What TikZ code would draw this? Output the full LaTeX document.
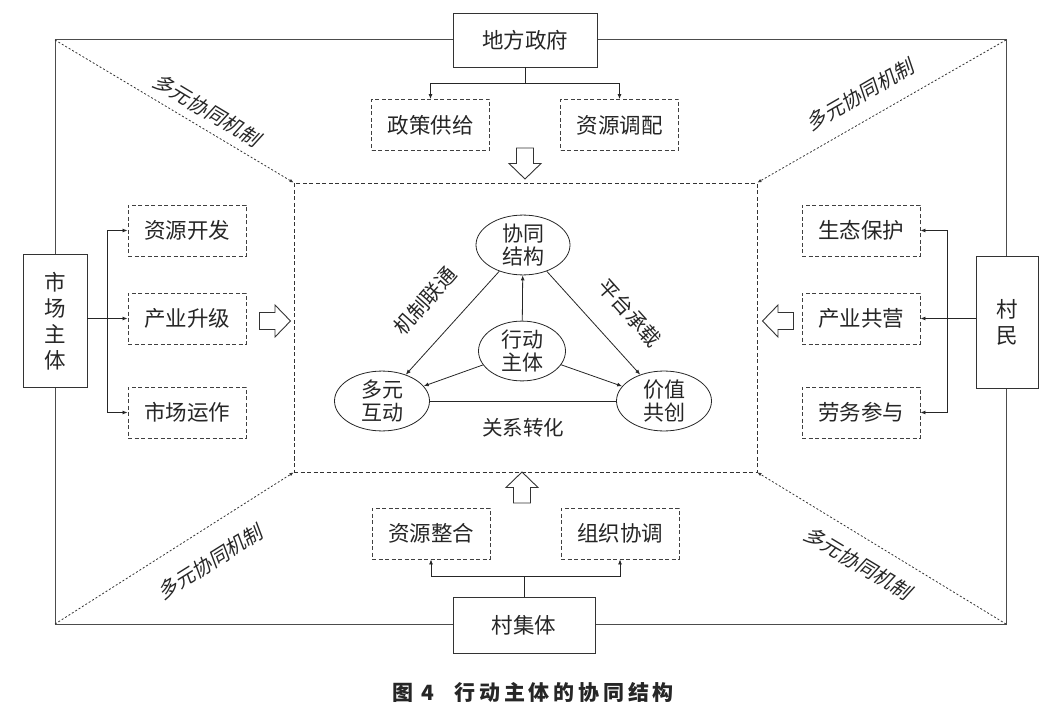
\documentclass[tikz,border=0pt]{standalone}
\usepackage{fontspec}
\setmainfont{Noto Sans CJK SC}
\newfontfamily\slantfont[FakeSlant=0.2]{Noto Sans CJK SC}
\newfontfamily\capfont[LetterSpace=18]{Noto Sans CJK SC}
\usetikzlibrary{arrows.meta,shapes.geometric}

\tikzset{
	mainbox/.style={draw=black!80, line width=0.9pt, fill=white, inner sep=0pt, align=center, font=\fontsize{21.5}{26}\selectfont},
	subbox/.style={draw=black!75, dash pattern=on 4pt off 2.5pt, line width=0.9pt, fill=white, minimum width=118, minimum height=51, inner sep=0pt, font=\fontsize{21.5}{24}\selectfont},
	role/.style={ellipse, draw=black!85, line width=0.8pt, minimum width=94, minimum height=51, inner sep=0pt, align=center, font=\fontsize{21}{23}\selectfont},
	tip/.style={-{Latex[length=5pt,width=4pt]}, line width=0.8pt, draw=black!85},
	mech/.style={-{Latex[length=4pt,width=3.5pt]}, dash pattern=on 2pt off 2pt, line width=0.8pt, draw=black!80},
	hollow/.pic={
		\draw[line width=0.9pt, draw=black!80, fill=white] (-8.5, -15.5) -- (8.5, -15.5) -- (8.5, 0) -- (16, 0) -- (0, 15.5) -- (-16, 0) -- (-8.5, 0) -- cycle;
	},
	tag/.style={font=\slantfont\fontsize{20}{22}\selectfont},
	edgetag/.style={font=\fontsize{20.5}{22}\selectfont},
}

\begin{document}
\begin{tikzpicture}[x=1pt, y=-1pt, every node/.append style={text=black!85}]
	%%%%% START %%%%%
	\useasboundingbox (0, 0) rectangle (1047, 714);
	
	% outer frame and its corners
	\coordinate (tl) at (55, 40);
	\coordinate (tr) at (1006, 40);
	\coordinate (bl) at (55, 624);
	\coordinate (br) at (1006, 624);
	\draw[line width=1pt, draw=black!70] (tl) rectangle (br);
	
	% centre frame
	\node[draw=black!80, dash pattern=on 4pt off 2.5pt, line width=0.9pt, minimum width=463, minimum height=289, inner sep=0pt] (core) at (525.5, 327.5) {};
	
	\draw[mech] (tl) -- (core.north west);
	\draw[mech] (tr) -- (core.north east);
	\draw[mech] (bl) -- (core.south west);
	\draw[mech] (br) -- (core.south east);
	
	\node[tag, rotate=-31] at (207, 110) {多元协同机制};
	\node[tag, rotate=30] at (860, 95) {多元协同机制};
	\node[tag, rotate=32] at (210, 562) {多元协同机制};
	\node[tag, rotate=-31] at (858, 563) {多元协同机制};
	
	% actors on the frame
	\node[mainbox, minimum width=144, minimum height=54] (gov) at (525, 40) {地方政府};
	\node[mainbox, minimum width=64, minimum height=133] (market) at (55, 321) {市\\场\\主\\体};
	\node[mainbox, minimum width=62, minimum height=132] (villager) at (1007, 322) {村\\民};
	\node[mainbox, minimum width=142, minimum height=56] (collective) at (524, 625) {村集体};
	
	% top
	\node[subbox] (policy) at (430.5, 125) {政策供给};
	\node[subbox] (alloc) at (619.5, 125) {资源调配};
	\draw[tip] (gov.south) -- ++(0, 16) -| (policy.north);
	\draw[tip] (gov.south) -- ++(0, 16) -| (alloc.north);
	\pic at (525, 163.5) {hollow};
	
	% left
	\node[subbox] (develop) at (187, 230.5) {资源开发};
	\node[subbox] (upgrade) at (187, 318.5) {产业升级};
	\node[subbox] (operate) at (187, 412.5) {市场运作};
	\coordinate (jl) at (107, 318.5);
	\draw[tip] (market.east |- upgrade) -- (upgrade.west);
	\draw[tip] (jl) |- (develop.west);
	\draw[tip] (jl) |- (operate.west);
	\pic[rotate=90] at (275, 321) {hollow};
	
	% right
	\node[subbox] (eco) at (861, 230.5) {生态保护};
	\node[subbox] (share) at (861, 318.5) {产业共营};
	\node[subbox] (labour) at (861, 412.5) {劳务参与};
	\coordinate (jr) at (947, 318.5);
	\draw[tip] (villager.west |- share) -- (share.east);
	\draw[tip] (jr) |- (eco.east);
	\draw[tip] (jr) |- (labour.east);
	\pic[rotate=-90] at (778, 321) {hollow};
	
	% bottom
	\node[subbox] (integrate) at (431, 533.5) {资源整合};
	\node[subbox] (coord) at (620, 533.5) {组织协调};
	\draw[tip] (collective.north) -- ++(0, -20) -| (integrate.south);
	\draw[tip] (collective.north) -- ++(0, -20) -| (coord.south);
	\pic[rotate=180] at (522, 487.5) {hollow};
	
	% centre triangle
	\node[role] (synergy) at (523, 245) {协同\\结构};
	\node[role, minimum width=87, minimum height=49] (actor) at (522, 351) {行动\\主体};
	\node[role, minimum width=95, minimum height=52] (interact) at (382, 401) {多元\\互动};
	\node[role, minimum width=95, minimum height=52] (value) at (664, 401) {价值\\共创};
	
	\draw[tip] (synergy) -- (interact);
	\draw[tip] (synergy) -- (value);
	\draw[line width=0.8pt, draw=black!85] (interact) -- (value);
	\draw[tip] (actor) -- (synergy);
	\draw[tip] (actor) -- (interact);
	\draw[tip] (actor) -- (value);
	
	\node[edgetag, rotate=48] at (425, 301) {机制联通};
	\node[edgetag, rotate=-48] at (630, 313) {平台承载};
	\node[edgetag] at (523, 428) {关系转化};
	
	% caption
	\node[font=\capfont\bfseries\fontsize{21}{24}\selectfont] (caption) at (533, 692) {图 4\hspace{20pt}行动主体的协同结构};
	
	%%%%% END %%%%%
\end{tikzpicture}
\end{document}
